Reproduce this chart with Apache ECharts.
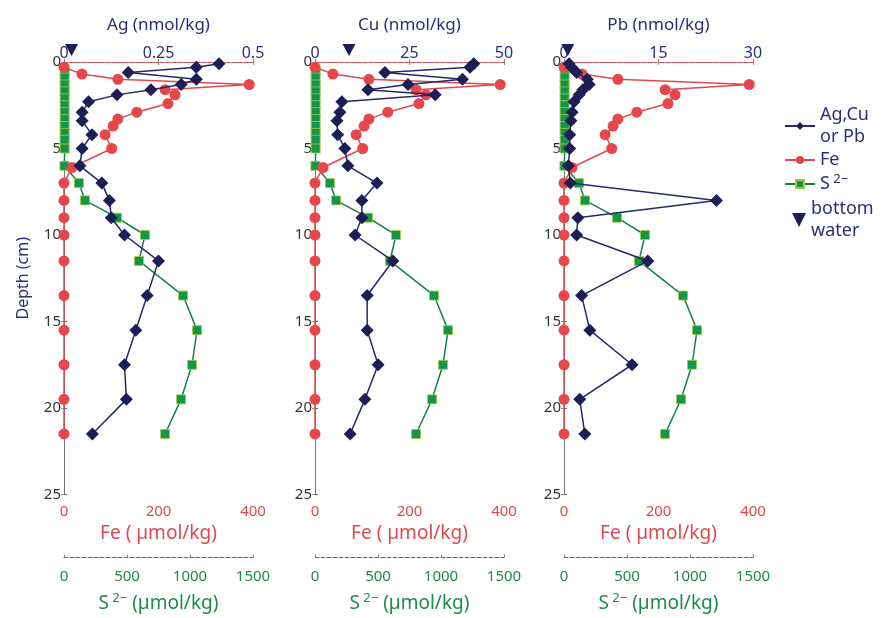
<!DOCTYPE html>
<html>
<head>
    <meta charset="UTF-8">
    <title>Depth profiles</title>
    <script src="https://cdn.jsdelivr.net/npm/echarts@6/dist/echarts.min.js"></script>
    <style>
        body, html { margin: 0; padding: 0; background: #fff; }
        #main { width: 886px; height: 618px; }
    </style>
</head>
<body>
<div id="main"></div>
<script>
    // depths (cm) of the metal samples
    var depthMetal = [0.1, 0.3, 0.6, 1.0, 1.3, 1.6, 1.9, 2.3, 2.9, 3.4, 4.2, 5.0, 6.0, 7, 8, 9, 10, 11.5, 13.5, 15.5, 17.5, 19.5, 21.5];
    var ag = [0.41, 0.35, 0.17, 0.35, 0.31, 0.23, 0.14, 0.065, 0.048, 0.048, 0.074, 0.048, 0.042, 0.10, 0.12, 0.125, 0.16, 0.25, 0.22, 0.19, 0.16, 0.165, 0.075];
    var cu = [42, 41, 18.5, 39, 24.6, 14, 31.8, 7.1, 6.6, 5.8, 6.0, 7.9, 8.7, 16.4, 12.4, 12.4, 10.6, 20.6, 13.8, 13.8, 16.7, 13.2, 9.3];
    var pb = [0.8, 1.2, 2.0, 3.7, 4.0, 3.0, 2.4, 1.6, 1.3, 1.1, 0.9, 0.9, 0.7, 1.0, 24.2, 2.2, 2.0, 13.3, 2.8, 4.1, 10.8, 2.5, 3.3];
    // Fe (umol/kg)
    var depthFe = [0.3, 0.7, 1.0, 1.3, 1.6, 1.9, 2.4, 2.9, 3.3, 3.7, 4.2, 5.0, 6.1, 7, 8, 9, 10, 11.5, 13.5, 15.5, 17.5, 19.5, 21.5];
    var fe = [0, 38, 114, 392, 214, 235, 220, 154, 114, 104, 87, 101, 17, 0, 0, 0, 0, 0, 0, 0, 0, 0, 0];
    // S2- (umol/kg)
    var depthS = [0.5, 0.9, 1.3, 1.7, 2.1, 2.5, 2.9, 3.3, 3.7, 4.1, 4.5, 5.0, 6.0, 7, 8, 9, 10, 11.5, 13.5, 15.5, 17.5, 19.5, 21.5];
    var s2 = [5, 5, 5, 5, 5, 5, 5, 5, 5, 5, 5, 5, 3, 119, 167, 421, 643, 595, 945, 1056, 1016, 929, 802];
    // bottom water metal value, drawn just above the sediment surface
    var bottomWater = [0.02, 9, 0.6];
    var bottomWaterDepth = -0.7;

    var metalNames = ['Ag (nmol/kg)', 'Cu (nmol/kg)', 'Pb (nmol/kg)'];
    var metalMax = [0.5, 50, 30];
    var metalStep = [0.25, 25, 15];
    var metalData = [ag, cu, pb];

    var navy = '#2c2f78';
    var red = '#dc4a4f';
    var green = '#1e8a4c';
    var font = 'Noto Sans';
    var lefts = [64, 315, 564];

    function pairs(vals, depths) {
        return vals.map(function (v, i) { return [v, depths[i]]; });
    }
    function plain(v) { return String(v); }

    var grid = [], xAxis = [], yAxis = [], series = [];
    for (var p = 0; p < 3; p++) {
        grid.push({left: lefts[p], top: 62, width: 189, height: 435});
        // metal axis on top
        xAxis.push({
            gridIndex: p, position: 'top', min: 0, max: metalMax[p], interval: metalStep[p],
            name: metalNames[p], nameLocation: 'middle', nameGap: 28,
            nameTextStyle: {color: navy, fontSize: 17, fontFamily: font},
            axisLine: {lineStyle: {color: navy, type: 'dashed', width: 1}},
            axisTick: {inside: true, length: 3, lineStyle: {color: '#888'}},
            axisLabel: {color: navy, fontSize: 16, fontFamily: font, margin: 1, formatter: plain},
            splitLine: {show: false}
        });
        // Fe axis at bottom
        xAxis.push({
            gridIndex: p, position: 'bottom', min: 0, max: 400, interval: 200,
            name: 'Fe ( µmol/kg)', nameLocation: 'middle', nameGap: 28,
            nameTextStyle: {color: red, fontSize: 19, fontFamily: font},
            axisLine: {lineStyle: {color: red, type: 'dashed', width: 1}},
            axisTick: {inside: true, length: 3, lineStyle: {color: '#888'}},
            axisLabel: {color: red, fontSize: 15, fontFamily: font, margin: 10, formatter: plain},
            splitLine: {show: false}
        });
        // S2- axis below
        xAxis.push({
            gridIndex: p, position: 'bottom', offset: 63, min: 0, max: 1500, interval: 500,
            name: '{n|S}{sup| 2−}{n| (µmol/kg)}', nameLocation: 'middle', nameGap: 34,
            nameTextStyle: {
                color: green, fontFamily: font,
                rich: {
                    n: {color: green, fontSize: 19, fontFamily: font, lineHeight: 24},
                    sup: {color: green, fontSize: 13, fontFamily: font, verticalAlign: 'top', lineHeight: 13}
                }
            },
            axisLine: {lineStyle: {color: green, type: 'dashed', width: 1}},
            axisTick: {inside: true, length: 3, lineStyle: {color: '#888'}},
            axisLabel: {color: green, fontSize: 15, fontFamily: font, margin: 12, formatter: plain},
            splitLine: {show: false}
        });
        yAxis.push({
            gridIndex: p, inverse: true, min: 0, max: 25, interval: 5,
            name: p === 0 ? 'Depth (cm)' : '', nameLocation: 'middle', nameGap: 33,
            nameTextStyle: {color: navy, fontSize: 16, fontFamily: font},
            axisLine: {lineStyle: {color: '#555'}},
            axisTick: {inside: true, length: 3, lineStyle: {color: '#666'}},
            axisLabel: {color: '#333', fontSize: 15, fontFamily: font, margin: 3},
            splitLine: {show: false}
        });
        yAxis.push({
            gridIndex: p, position: 'right', inverse: true, min: 0, max: 25, interval: 5,
            axisLine: {show: true, lineStyle: {color: '#777'}},
            axisTick: {inside: true, length: 3, lineStyle: {color: '#999'}},
            axisLabel: {show: false},
            splitLine: {show: false}
        });

        series.push({
            name: 'S2', type: 'line', xAxisIndex: p * 3 + 2, yAxisIndex: p * 2,
            data: pairs(s2, depthS), symbol: 'rect', symbolSize: 9,
            lineStyle: {color: '#17804a', width: 1.5},
            itemStyle: {color: '#14964a', borderColor: '#a6cc40', borderWidth: 0.8},
            z: 2
        });
        series.push({
            name: 'Fe', type: 'line', xAxisIndex: p * 3 + 1, yAxisIndex: p * 2,
            data: pairs(fe, depthFe), symbol: 'circle', symbolSize: 11,
            lineStyle: {color: red, width: 1.5},
            itemStyle: {color: '#e5474c'},
            z: 3
        });
        series.push({
            name: 'metal', type: 'line', xAxisIndex: p * 3, yAxisIndex: p * 2,
            data: pairs(metalData[p], depthMetal), symbol: 'diamond', symbolSize: 13,
            lineStyle: {color: '#25286a', width: 1.5},
            itemStyle: {color: '#1c1e55'},
            z: 4
        });
        series.push({
            name: 'bottom', type: 'scatter', xAxisIndex: p * 3, yAxisIndex: p * 2,
            data: [[bottomWater[p], bottomWaterDepth]], clip: false,
            symbol: 'triangle', symbolRotate: 180, symbolSize: [13, 12],
            itemStyle: {color: '#1c1e55', opacity: 1},
            z: 5
        });
    }

    var legendText = {
        metal: 'Ag,Cu\nor Pb',
        Fe: 'Fe',
        S2: '{n|S}{sup| 2−}',
        bottom: 'bottom\nwater'
    };
    var legendNames = ['metal', 'Fe', 'S2', 'bottom'];
    var legendTops = [99, 144, 168, 193];
    var legend = legendNames.map(function (n, i) {
        var item = {name: n};
        if (n === 'bottom') {
            item.icon = 'path://M0,0 L12,0 L6,12 Z';
            item.itemStyle = {color: '#1c1e55', opacity: 1};
        }
        return {
            data: [item], left: n === 'bottom' ? 787 : 779, top: legendTops[i],
            itemWidth: n === 'bottom' ? 14 : 30, itemHeight: n === 'bottom' ? 14 : 10,
            itemGap: 6, selectedMode: false,
            formatter: function (name) { return legendText[name]; },
            textStyle: {
                color: navy, fontSize: 18, fontFamily: font, lineHeight: 22,
                rich: {
                    n: {color: navy, fontSize: 18, fontFamily: font, lineHeight: 22},
                    sup: {color: navy, fontSize: 13, fontFamily: font, verticalAlign: 'top', lineHeight: 13}
                }
            }
        };
    });

    var chart = echarts.init(document.getElementById('main'));
    chart.setOption({
        backgroundColor: '#fff',
        animation: false,
        grid: grid,
        xAxis: xAxis,
        yAxis: yAxis,
        legend: legend,
        series: series
    });
</script>
</body>
</html>
